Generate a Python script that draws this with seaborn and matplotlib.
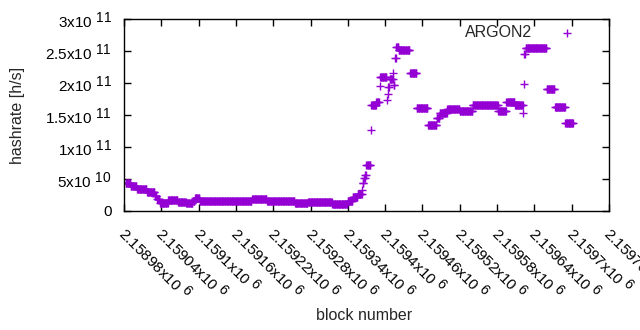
import numpy as np
import pandas as pd
import matplotlib
matplotlib.use("Agg")
import matplotlib.pyplot as plt
import matplotlib._mathtext as _mt
from matplotlib.transforms import ScaledTranslation
import seaborn as sns

# ---- data ----
block_base = 2158980
# runs of (nearly) constant hashrate: start offset (blocks from block_base), value in 1e10 h/s
run_start = [3, 11, 21, 37, 50, 53, 58, 71, 87, 100,
             111, 114, 122, 138, 206, 230, 275, 296, 335, 360,
             368, 376, 383, 384, 386, 388, 390, 397, 398, 406,
             411, 412, 423, 424, 425, 427, 433, 434, 436, 438,
             442, 460, 471, 489, 503, 508, 520, 540, 561, 602,
             615, 629, 642, 643, 644, 646, 680, 693, 710]
run_end = 723
run_value_e10 = [4.45, 3.85, 3.4, 3.0, 2.4, 1.8, 1.3, 1.7, 1.45, 1.2,
                 1.5, 2.1, 1.6, 1.5, 1.8, 1.5, 1.25, 1.35, 1.15, 1.5,
                 2.2, 2.7, 3.3, 4.3, 5.1, 5.6, 7.2, 12.7, 16.5, 17.0,
                 19.5, 20.9, 17.3, 18.3, 19.3, 20.6, 21.6, 19.7, 23.9, 25.6,
                 25.2, 21.6, 16.1, 13.5, 14.5, 15.3, 15.9, 15.6, 16.6, 15.6,
                 17.1, 16.6, 15.3, 19.8, 24.5, 25.4, 19.1, 16.2, 13.7]

x_ticks = [2158980, 2159040, 2159100, 2159160, 2159220, 2159280, 2159340,
           2159400, 2159460, 2159520, 2159580, 2159640, 2159700, 2159760]
x_tick_labels = ["2.15898x10 $^{6}$", "2.15904x10 $^{6}$", "2.1591x10 $^{6}$",
                 "2.15916x10 $^{6}$", "2.15922x10 $^{6}$", "2.15928x10 $^{6}$",
                 "2.15934x10 $^{6}$", "2.1594x10 $^{6}$", "2.15946x10 $^{6}$",
                 "2.15952x10 $^{6}$", "2.15958x10 $^{6}$", "2.15964x10 $^{6}$",
                 "2.1597x10 $^{6}$", "2.15976x10 $^{6}$"]
y_ticks = [0, 5e10, 1e11, 1.5e11, 2e11, 2.5e11, 3e11]
y_tick_labels = ["0", "5x10 $^{10}$", "1x10 $^{11}$", "1.5x10 $^{11}$",
                 "2x10 $^{11}$", "2.5x10 $^{11}$", "3x10 $^{11}$"]

# ---- build the table ----
lengths = np.diff(run_start + [run_end])
blocks = block_base + np.arange(run_start[0], run_end)
hashrate = np.repeat(np.array(run_value_e10) * 1e10, lengths)
df = pd.DataFrame({"block": blocks, "hashrate": hashrate})

# gnuplot-like superscripts: nearly full size
_mt.SHRINK_FACTOR = 0.9

sns.set_theme(style="ticks")
plt.rcParams["font.family"] = ["Liberation Sans", "DejaVu Sans"]
plt.rcParams["mathtext.fontset"] = "custom"
plt.rcParams["mathtext.rm"] = "Liberation Sans"
plt.rcParams["mathtext.it"] = "Liberation Sans:italic"
plt.rcParams["mathtext.bf"] = "Liberation Sans:bold"

FS = 11.5
TFS = 11
fig = plt.figure(figsize=(6.4, 3.3), dpi=100)
ax = fig.add_axes([124 / 640, 119 / 330, 485 / 640, 192 / 330])

sns.scatterplot(data=df, x="block", y="hashrate", marker="+", color="#9400d3",
                s=33, linewidth=1.0, label="ARGON2", ax=ax)

ax.set_xlim(2158980, 2159760)
ax.set_ylim(0, 3e11)
ax.set_xticks(x_ticks)
ax.set_xticklabels(x_tick_labels, rotation=-45, ha="left", va="top",
                   rotation_mode="anchor", fontsize=TFS)
ax.set_yticks(y_ticks)
ax.set_yticklabels(y_tick_labels, fontsize=TFS)
ax.tick_params(direction="in", length=5, width=1, top=True, right=True,
               colors="black")
ax.tick_params(axis="y", pad=9)
ax.tick_params(axis="x", pad=8)
shift = ScaledTranslation(4 / 72, 0, fig.dpi_scale_trans)
for lab in ax.get_xticklabels():
    lab.set_transform(lab.get_transform() + shift)
for sp in ax.spines.values():
    sp.set_visible(True)
    sp.set_color("black")
    sp.set_linewidth(1)

ax.set_xlabel("block number", fontsize=FS)
ax.set_ylabel("hashrate [h/s]", fontsize=FS)
ax.xaxis.set_label_coords(0.495, -0.505)
ax.yaxis.set_label_coords(-0.205, 0.5)

ax.legend(loc="upper right", frameon=False, markerfirst=False,
          handletextpad=1.2, borderaxespad=0, borderpad=0,
          bbox_to_anchor=(0.946, 0.97), fontsize=FS)

fig.savefig("out.png", dpi=100)
